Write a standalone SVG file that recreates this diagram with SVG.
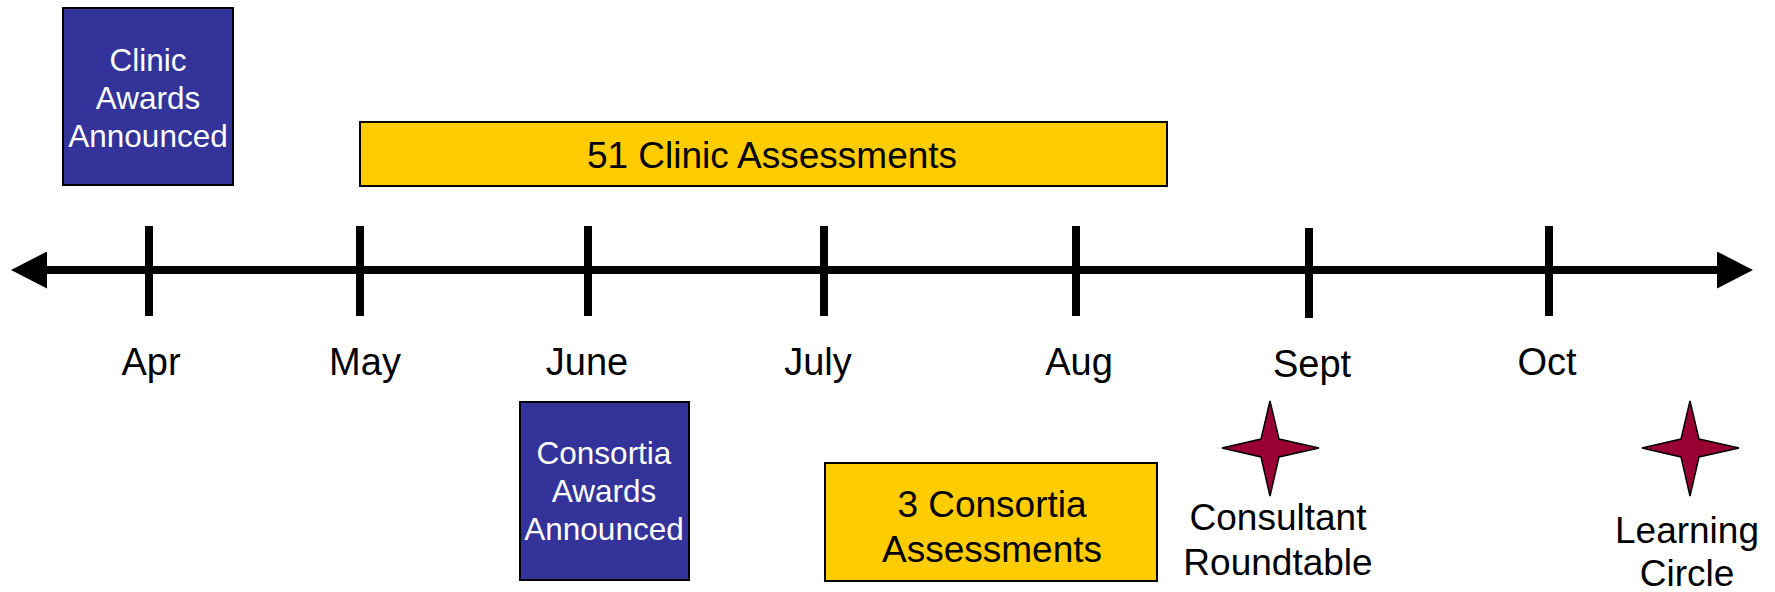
<svg xmlns="http://www.w3.org/2000/svg" width="1775" height="592" viewBox="0 0 1775 592">
<style>
text{font-family:"Liberation Sans",Arial,sans-serif;text-anchor:middle}
.blue{fill:#333399;stroke:#000;stroke-width:2}
.yel{fill:#FFCC00;stroke:#000;stroke-width:2}
.wt{fill:#fff;font-size:31.5px}
.bt{fill:#000;font-size:37px}
.mon{fill:#000;font-size:38px}
.tick{stroke:#000;stroke-width:8}
.star{fill:#990033;stroke:#000;stroke-width:1.5;stroke-linejoin:miter}
</style>
<defs>
<marker id="ah" markerUnits="userSpaceOnUse" viewBox="0 0 36 37" markerWidth="36" markerHeight="37" refX="0" refY="18.5" orient="auto-start-reverse">
<path d="M0,0 L36,18.5 L0,37 Z" fill="#000"/>
</marker>
<path id="starShape" d="M0,-47 L9,-9 L49,0 L9,9 L0,48 L-9,9 L-48,0 L-9,-9 Z"/>
</defs>
<g id="connectors">
<line x1="47" y1="270" x2="1717" y2="270" stroke="#000" stroke-width="8" marker-start="url(#ah)" marker-end="url(#ah)"/>
<line class="tick" x1="149" y1="226" x2="149" y2="316"/>
<line class="tick" x1="360" y1="226" x2="360" y2="316"/>
<line class="tick" x1="588" y1="226" x2="588" y2="316"/>
<line class="tick" x1="824" y1="226" x2="824" y2="316"/>
<line class="tick" x1="1076" y1="226" x2="1076" y2="316"/>
<line class="tick" x1="1309" y1="228" x2="1309" y2="318"/>
<line class="tick" x1="1549" y1="226" x2="1549" y2="316"/>
</g>
<g id="months">
<text class="mon" x="151" y="375">Apr</text>
<text class="mon" x="365" y="375">May</text>
<text class="mon" x="587" y="375">June</text>
<text class="mon" x="818" y="375">July</text>
<text class="mon" x="1079" y="375">Aug</text>
<text class="mon" x="1312" y="377">Sept</text>
<text class="mon" x="1547" y="375">Oct</text>
</g>
<g id="clinic-awards">
<rect class="blue" x="63" y="8" width="170" height="177"/>
<text class="wt" x="148" y="71">Clinic</text>
<text class="wt" x="148" y="109">Awards</text>
<text class="wt" x="148" y="147">Announced</text>
</g>
<g id="clinic-assessments">
<rect class="yel" x="360" y="122" width="807" height="64"/>
<text class="bt" x="772" y="168">51 Clinic Assessments</text>
</g>
<g id="consortia-awards">
<rect class="blue" x="520" y="402" width="169" height="178"/>
<text class="wt" x="604" y="464">Consortia</text>
<text class="wt" x="604" y="502">Awards</text>
<text class="wt" x="604" y="540">Announced</text>
</g>
<g id="consortia-assessments">
<rect class="yel" x="825" y="463" width="332" height="118"/>
<text class="bt" x="992" y="517">3 Consortia</text>
<text class="bt" x="992" y="562">Assessments</text>
</g>
<g id="consultant-roundtable">
<use href="#starShape" class="star" x="1270" y="448"/>
<text class="bt" x="1278" y="530">Consultant</text>
<text class="bt" x="1278" y="575">Roundtable</text>
</g>
<g id="learning-circle">
<use href="#starShape" class="star" x="1690" y="448"/>
<text class="bt" x="1687" y="543">Learning</text>
<text class="bt" x="1687" y="586">Circle</text>
</g>
</svg>
